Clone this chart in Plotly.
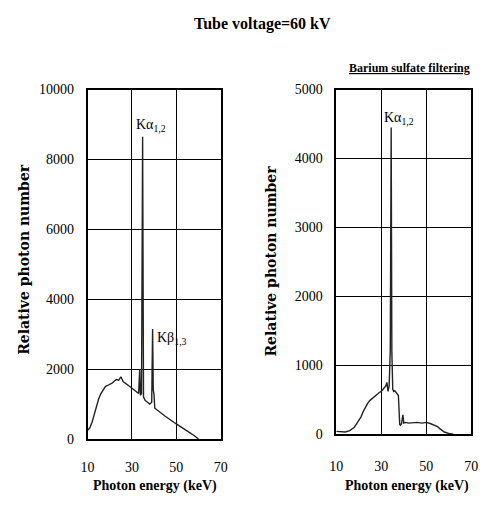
import plotly.graph_objects as go

# Left panel: tube voltage 60 kV spectrum
energy_left = [10, 11, 12, 13, 14, 15, 16, 17, 18, 19, 20, 21, 22, 23, 24, 25, 26, 27, 28, 29, 30,
               31, 32, 33, 33.5, 33.8, 34.3, 34.8, 35.2, 36, 37, 38, 38.9, 39.3, 39.6, 39.9, 40.3,
               41, 42, 43, 44, 45, 46, 47, 48, 49, 50, 52, 54, 56, 58, 60]
counts_left = [250, 320, 480, 700, 950, 1150, 1300, 1420, 1500, 1530, 1560, 1600, 1650, 1700, 1680, 1780, 1640, 1600, 1560, 1500, 1450,
               1400, 1370, 1300, 2000, 1250, 1300, 8650, 1200, 1100, 1050, 1000, 1050, 3150, 1400, 1300, 880,
               850, 800, 750, 700, 650, 600, 550, 500, 470, 430, 340, 260, 180, 100, 0]

# Right panel: barium sulfate filtering
energy_right = [10, 12, 14, 16, 17, 18, 19, 20, 21, 22, 23, 24, 25, 26, 27, 28, 29, 30, 31, 32, 32.5,
                33, 33.5, 34, 34.4, 34.7, 35.1, 35.5, 36, 37, 37.6, 38.2, 38.5, 39, 39.6, 40,
                41, 42, 44, 46, 48, 50, 52, 54, 55, 56, 57, 58, 60, 62]
counts_right = [40, 30, 30, 50, 70, 100, 150, 200, 250, 330, 400, 450, 490, 520, 550, 570, 600, 620, 660, 700, 750,
                620, 700, 1225, 4450, 1200, 650, 620, 630, 580, 560, 140, 130, 150, 280, 160,
                170, 160, 170, 170, 160, 170, 150, 130, 110, 80, 50, 30, 10, 0]

x_ticks = [10, 30, 50, 70]
y_ticks_left = [0, 2000, 4000, 6000, 8000, 10000]
y_ticks_right = [0, 1000, 2000, 3000, 4000, 5000]

W, H = 488, 512
def fx(px):
    return px / W
def fy(py):
    return 1 - py / H

SERIF = "Liberation Serif"
WIDE = "DejaVu Serif"

fig = go.Figure()
fig.add_trace(go.Scatter(x=energy_left, y=counts_left, mode="lines",
                         line=dict(color="#222222", width=1.4), xaxis="x", yaxis="y", showlegend=False))
fig.add_trace(go.Scatter(x=energy_right, y=counts_right, mode="lines",
                         line=dict(color="#222222", width=1.4), xaxis="x2", yaxis="y2", showlegend=False))

axis_common = dict(showline=True, linecolor="black", linewidth=1.5, mirror=True,
                   showgrid=True, gridcolor="black", gridwidth=1, zeroline=False,
                   ticks="", tickfont=dict(family=SERIF, size=14, color="black"))

fig.update_layout(
    width=W, height=H, margin=dict(l=0, r=0, t=0, b=0),
    paper_bgcolor="white", plot_bgcolor="white",
    xaxis=dict(domain=[fx(83), fx(220)], range=[10, 70], tickvals=x_ticks,
               ticktext=[str(v) for v in x_ticks], anchor="y", ticklabelstandoff=14, **axis_common),
    yaxis=dict(domain=[fy(445), fy(85)], range=[0, 10000], tickvals=y_ticks_left,
               ticktext=[str(v) for v in y_ticks_left], anchor="x", ticklabelstandoff=9, **axis_common),
    xaxis2=dict(domain=[fx(339), fx(478)], range=[10, 70], tickvals=x_ticks,
                ticktext=[str(v) for v in x_ticks], anchor="y2", ticklabelstandoff=18, **axis_common),
    yaxis2=dict(domain=[fy(440), fy(85)], range=[0, 5000], tickvals=y_ticks_right,
                ticktext=[str(v) for v in y_ticks_right], anchor="x2", ticklabelstandoff=9, **axis_common),
)

def ann(text, x, y, size=13, bold=True, angle=0, xanchor="center", family=SERIF):
    t = f"<b>{text}</b>" if bold else text
    fig.add_annotation(text=t, x=fx(x), y=fy(y), xref="paper", yref="paper", showarrow=False,
                       font=dict(family=family, size=size, color="black"), textangle=angle,
                       xanchor=xanchor, yanchor="middle")

ann("Tube voltage=60 kV", 263, 18, size=16)
ann("<u>Barium sulfate filtering</u>", 414, 63, size=12)
ann("Relative photon number", 18, 260, size=14, angle=-90, family=WIDE)
ann("Relative photon number", 272, 262, size=14, angle=-90, family=WIDE)
ann("Photon energy (keV)", 152, 493, size=14)
ann("Photon energy (keV)", 412, 493, size=14)
ann("Kα<sub>1,2</sub>", 131, 122, size=14, bold=False, xanchor="left")
ann("Kβ<sub>1,3</sub>", 152, 342, size=14, bold=False, xanchor="left")
ann("Kα<sub>1,2</sub>", 386, 115, size=14, bold=False, xanchor="left")

fig.write_html("out.html", config={"responsive": False, "displayModeBar": False},
               post_script="document.body.style.margin='0';document.body.style.overflow='hidden';")
